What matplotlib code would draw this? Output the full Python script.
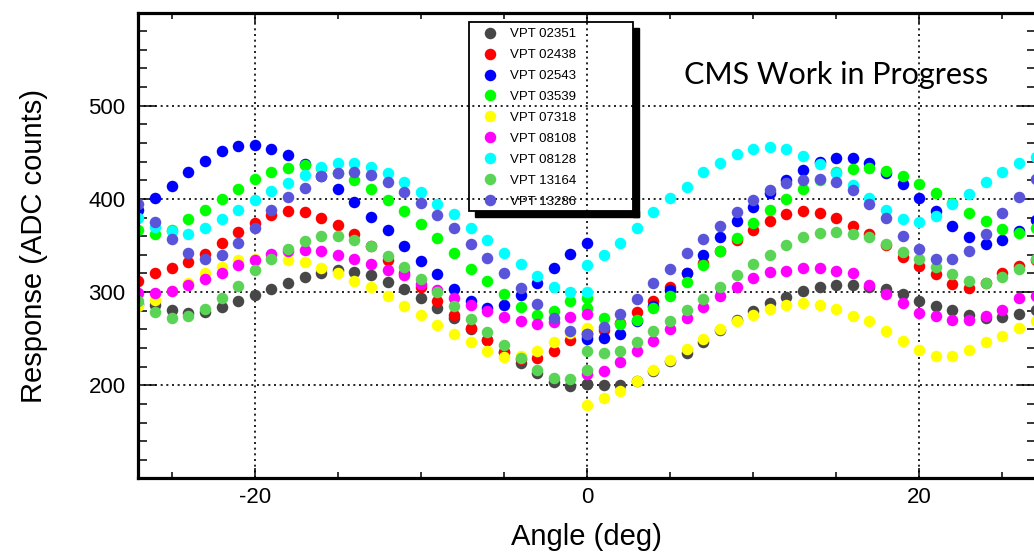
"""Angular response scan of several VPTs (ADC counts vs angle)."""
import matplotlib
matplotlib.use("Agg")
import matplotlib.pyplot as plt
from matplotlib.patches import Rectangle

W, H = 1034, 556

# scan goes -27..0 then restarts at 0..27, so the 0 point appears twice
ANGLES = list(range(-27, 1)) + list(range(0, 28))

vpt02351 = [287, 286, 281, 278, 279, 284, 291, 297, 303, 310, 316, 321, 324, 322,
            318, 311, 303, 294, 283, 272, 260, 249, 236, 224, 213, 204, 199, 201,
            201, 200, 200, 205, 215, 226, 235, 247, 259, 270, 280, 288, 295, 301,
            306, 308, 308, 306, 303, 298, 291, 285, 281, 276, 272, 273, 277, 281]
vpt02438 = [312, 321, 326, 332, 341, 353, 365, 374, 383, 387, 386, 380, 372, 362,
            349, 334, 320, 306, 290, 276, 261, 249, 236, 228, 229, 237, 249, 256,
            252, 259, 267, 279, 291, 305, 320, 331, 344, 356, 367, 376, 384, 387,
            385, 379, 371, 362, 350, 338, 328, 319, 309, 304, 310, 320, 328, 334]
vpt02543 = [388, 401, 414, 429, 441, 451, 457, 458, 453, 447, 437, 424, 411, 397,
            381, 367, 349, 333, 319, 303, 290, 283, 286, 297, 310, 326, 341, 353,
            250, 251, 255, 269, 285, 302, 320, 340, 359, 376, 391, 406, 420, 431,
            440, 444, 444, 438, 428, 416, 401, 387, 371, 359, 352, 356, 366, 377]
vpt03539 = [367, 362, 367, 378, 388, 400, 411, 421, 429, 433, 436, 433, 428, 420,
            411, 399, 387, 373, 358, 342, 325, 312, 298, 284, 275, 280, 290, 294,
            283, 272, 266, 270, 283, 296, 311, 329, 344, 358, 374, 388, 400, 411,
            420, 429, 432, 433, 430, 425, 416, 406, 396, 385, 376, 368, 363, 369]
vpt07318 = [285, 292, 301, 310, 320, 327, 334, 336, 337, 334, 332, 326, 320, 312,
            305, 296, 285, 275, 265, 255, 246, 237, 230, 231, 237, 247, 256, 262,
            179, 186, 194, 205, 216, 227, 239, 250, 260, 269, 276, 282, 286, 288,
            286, 282, 274, 269, 258, 248, 238, 232, 232, 238, 246, 253, 262, 269]
vpt08108 = [299, 299, 301, 308, 314, 321, 329, 334, 341, 344, 345, 344, 340, 335,
            330, 324, 318, 309, 302, 294, 286, 280, 273, 269, 266, 268, 273, 277,
            212, 215, 225, 237, 248, 260, 272, 284, 296, 305, 315, 322, 323, 326,
            326, 323, 320, 308, 298, 288, 278, 274, 270, 270, 274, 281, 294, 296]
vpt08128 = [379, 370, 366, 362, 369, 378, 388, 399, 408, 417, 426, 434, 438, 438,
            434, 428, 418, 407, 395, 384, 369, 356, 342, 330, 317, 306, 300, 300,
            329, 340, 353, 369, 386, 401, 413, 429, 438, 448, 454, 456, 454, 446,
            437, 428, 415, 401, 388, 378, 375, 382, 395, 405, 418, 429, 438, 445]
vpt13164 = [290, 279, 272, 274, 282, 294, 307, 324, 335, 346, 355, 360, 360, 356,
            349, 339, 327, 314, 300, 285, 271, 257, 243, 229, 217, 208, 207, 217,
            237, 235, 237, 246, 258, 269, 281, 293, 306, 318, 330, 340, 350, 359,
            363, 365, 362, 359, 352, 343, 336, 327, 319, 312, 310, 316, 325, 336]
vpt13286 = [395, 375, 357, 342, 336, 340, 353, 369, 388, 402, 412, 424, 428, 429,
            426, 418, 407, 396, 383, 369, 352, 337, 320, 304, 287, 272, 258, 255,
            255, 263, 277, 293, 310, 325, 342, 357, 371, 386, 399, 409, 417, 420,
            421, 418, 409, 395, 379, 360, 346, 336, 335, 344, 362, 385, 402, 421]

SERIES = [vpt02351, vpt02438, vpt02543, vpt03539, vpt07318,
          vpt08108, vpt08128, vpt13164, vpt13286]
LABELS = ["VPT 02351", "VPT 02438", "VPT 02543", "VPT 03539", "VPT 07318",
          "VPT 08108", "VPT 08128", "VPT 13164", "VPT 13286"]
COLORS = ["#474747", "#ff0000", "#0000ff", "#00ff00", "#ffff00",
          "#ff00ff", "#00ffff", "#59d454", "#5954d9"]

plt.rcParams["font.family"] = ["Liberation Sans", "DejaVu Sans"]
plt.rcParams["axes.unicode_minus"] = False


def fx(px):
    return px / W


def fy(py):
    # pixel rows counted from the top
    return 1 - py / H


fig = plt.figure(figsize=(W / 100, H / 100), dpi=100)
ax = fig.add_axes([fx(138), fy(477.7), fx(1036 - 138), (477.7 - 13.3) / H])

for vals, lab, col in zip(SERIES, LABELS, COLORS):
    ax.plot(ANGLES, vals, "o", color=col, markersize=8.3,
            markeredgewidth=0, label=lab, clip_on=True)

ax.set_xlim(-27.03, 27.03)
ax.set_ylim(101, 599)
ax.set_xticks([-20, 0, 20])
ax.set_xticks(range(-25, 27, 5), minor=True)
ax.set_yticks([200, 300, 400, 500])
ax.set_yticks(range(120, 600, 20), minor=True)
ax.tick_params(which="both", direction="in", top=True, right=True,
               width=1.1, labelsize=16)
ax.tick_params(axis="y", which="major", length=13, pad=9)
ax.tick_params(axis="y", which="minor", length=6.5)
ax.tick_params(axis="x", which="major", length=7, pad=7)
ax.tick_params(axis="x", which="minor", length=4)
ax.grid(True, which="major", color="black", linewidth=1.2,
        linestyle=(0, (1.2, 2.2)))
ax.set_axisbelow(True)
for sp in ax.spines.values():
    sp.set_linewidth(2.3)

fig.text(fx(34), fy(246), "Response (ADC counts)", rotation=90,
         ha="center", va="center", fontsize=21)
fig.text(fx(586), fy(537), "Angle (deg)", ha="center", va="center",
         fontsize=21)
fig.text(fx(836), fy(83.5), "CMS Work in Progress", ha="center",
         va="baseline", fontsize=22, family=["Lato", "DejaVu Sans"])

# legend box with a ROOT-style L-shaped shadow
lx0, ly0, lx1, ly1 = 469.3, 21.7, 633.3, 210.7
sh = 6
fig.patches.append(Rectangle((fx(lx1), fy(ly1 + sh)), fx(sh), (ly1 + sh - ly0 - sh) / H,
                             transform=fig.transFigure, color="black", zorder=5))
fig.patches.append(Rectangle((fx(lx0 + sh), fy(ly1 + sh)), fx(lx1 + sh - lx0 - sh), sh / H,
                             transform=fig.transFigure, color="black", zorder=5))
fig.patches.append(Rectangle((fx(lx0), fy(ly1)), fx(lx1 - lx0), (ly1 - ly0) / H,
                             transform=fig.transFigure, facecolor="none",
                             edgecolor="black", linewidth=1.3, zorder=6))

fs = 9.5
hl = 1.0
leg = ax.legend(loc="upper left", frameon=False, fontsize=fs,
                bbox_to_anchor=(fx(490 - hl * fs / 0.72 / 2), fy(28)),
                bbox_transform=fig.transFigure, borderpad=0, borderaxespad=0,
                handlelength=hl, handletextpad=1.0, labelspacing=0.66,
                numpoints=1)
leg.set_zorder(7)

fig.savefig("out.png", dpi=100)
